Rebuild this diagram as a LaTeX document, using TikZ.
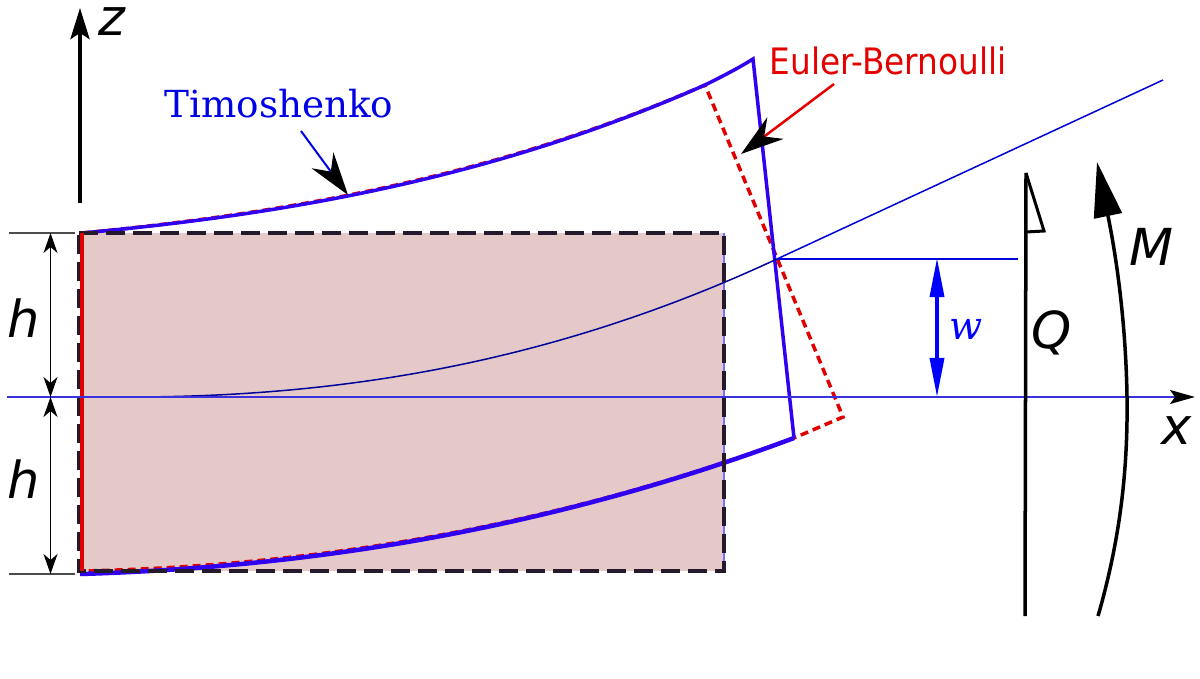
\documentclass[tikz,border=0pt]{standalone}
\usepackage{fontspec}
\usetikzlibrary{arrows.meta}
\newfontfamily\labelfont{DejaVu Sans}
\newfontfamily\timofont{DejaVu Serif}
\newfontfamily\eulerfont{DejaVu Sans Condensed}
\definecolor{beamfill}{HTML}{E5C9C9}
\definecolor{dashdark}{HTML}{241A2C}
\definecolor{timoblue}{HTML}{3000F0}
\definecolor{axisblue}{HTML}{3A30DC}
\definecolor{eulerred}{HTML}{E00000}
\tikzset{
	sym/.style={font=\labelfont\itshape\fontsize{14.5pt}{14.5pt}\selectfont,black,inner sep=0pt},
	thinblue/.style={line width=0.015cm,color=blue!85!black},
	timoline/.style={line width=0.035cm,color=timoblue},
	eulerline/.style={line width=0.035cm,color=eulerred,dash pattern=on 0.08cm off 0.05cm},
	bighead/.style={-{Stealth[length=0.43cm,width=0.27cm,inset=0.14cm,black]}},
	dimhead/.style={{Stealth[length=0.2cm,width=0.14cm,inset=0.06cm]}-{Stealth[length=0.2cm,width=0.14cm,inset=0.06cm]}},
}
\begin{document}
\begin{tikzpicture}[x=0.01cm,y=-0.01cm]
	\useasboundingbox (0,0) rectangle (1200,679);
	% beam corners and section points
	\coordinate (tl) at (81,233);
	\coordinate (tr) at (724,233);
	\coordinate (br) at (724,571);
	\coordinate (bl) at (81,571);
	\coordinate (neutral) at (777,259);
	\coordinate (ebtop) at (705,85);
	\coordinate (ebbot) at (843,417);
	\coordinate (ttop) at (753,59);
	\coordinate (tbot) at (794,438);
	\fill[beamfill] (tl) rectangle (br);
	\draw[line width=0.02cm,color=blue!55!white] (tr) -- (br);
	% deformed shapes
	\draw[eulerline] (82,233) .. controls (290,213) and (497,176) .. (ebtop) -- (ebbot) -- (tbot) .. controls (556,526) and (318,566) .. (82,571);
	\draw[timoline] (tbot) -- (ttop) .. controls (737,69) and (721,77) .. (ebtop) .. controls (497,177) and (290,214) .. (82,233);
	\draw[timoline,line width=0.045cm] (tbot) .. controls (556,527) and (318,567) .. (80,574);
	% neutral line
	\draw[line width=0.015cm,color=blue!60!black] (130,397) .. controls (350,397) and (560,360) .. (neutral);
	\draw[thinblue] (neutral) -- (1163,80);
	\draw[thinblue] (neutral) -- (1018,259);
	% dashed beam
	\draw[line width=0.04cm,color=dashdark,dash pattern=on 0.19cm off 0.08cm] (79,233) -- (tr) -- (br) -- (79,571) -- cycle;
	\draw[line width=0.035cm,color=eulerred] (82,233) -- (82,571);
	% axes
	\draw[line width=0.04cm,-{Stealth[length=0.31cm,width=0.19cm,inset=0.06cm]}] (80,203) -- (80,8);
	\node[sym] (zlab) at (112,22) {z};
	\draw[line width=0.017cm,color=axisblue,-{Stealth[length=0.25cm,width=0.14cm,inset=0.05cm,black]}] (7,397) -- (1195,397);
	\node[sym] (xlab) at (1177,431) {x};
	% heights
	\draw[line width=0.017cm,color=black!70] (9,233) -- (75,233);
	\draw[line width=0.017cm,color=black!70] (9,574) -- (75,574);
	\draw[line width=0.014cm,dimhead] (50.5,233) -- (50.5,397);
	\draw[line width=0.014cm,dimhead] (50.5,397) -- (50.5,574);
	\node[sym] (hup) at (24,318) {h};
	\node[sym] (hdown) at (24,479) {h};
	% deflection
	\draw[line width=0.035cm,color=blue,{Stealth[length=0.39cm,width=0.14cm,inset=0cm]}-{Stealth[length=0.39cm,width=0.14cm,inset=0cm]}] (937,258) -- (937,397);
	\node[font=\timofont\itshape\fontsize{11pt}{11pt}\selectfont,color=blue,inner sep=0pt] (wlab) at (966,329) {w};
	% labels with arrows
	\node[font=\timofont\fontsize{10.6pt}{10.6pt}\selectfont,color=blue!90!black,inner sep=0pt] (timo) at (279,104) {Timoshenko};
	\coordinate (timostart) at (301,131);
	\coordinate (timotip) at (348,195);
	\draw[line width=0.02cm,color=blue!90!black,bighead] (timostart) -- (timotip);
	\node[font=\eulerfont\fontsize{10.35pt}{10.35pt}\selectfont,color=red!90!black,inner sep=0pt] (euler) at (888,61) {Euler-Bernoulli};
	\coordinate (eulerstart) at (834,84);
	\coordinate (eulertip) at (741,154);
	\draw[line width=0.025cm,color=red!90!black,bighead] (eulerstart) -- (eulertip);
	% shear and moment
	\draw[line width=0.035cm] (1026,173) -- (1025,616);
	\draw[line width=0.03cm] (1026,173) -- (1044,231) -- (1026,232);
	\node[sym] (qlab) at (1052,333) {Q};
	\draw[line width=0.035cm,-{Triangle[length=0.55cm,width=0.28cm]}] (1098,616) .. controls (1120,540) and (1128,470) .. (1127,397) .. controls (1126,330) and (1118,265) .. (1097,162);
	\node[sym] (mlab) at (1151,247) {M};
\end{tikzpicture}
\end{document}
